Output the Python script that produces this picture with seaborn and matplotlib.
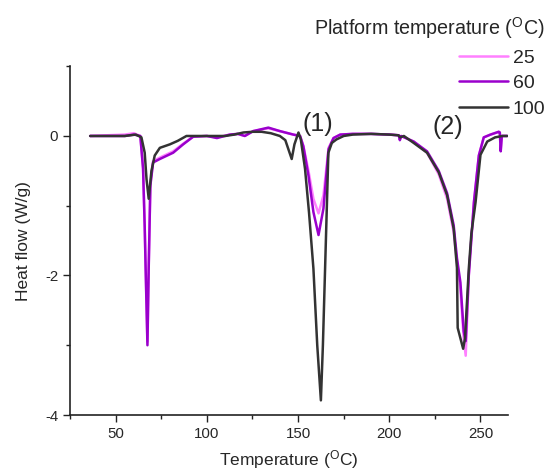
import numpy as np
import pandas as pd
import matplotlib
matplotlib.use("Agg")
import matplotlib.pyplot as plt
import seaborn as sns
from matplotlib.ticker import MultipleLocator

# ---------------- data ----------------
t_100 = [36, 45, 55, 61, 64.1, 65.9, 66.9, 68.1, 69.6, 71.4, 74.2, 79.7, 84, 88.8, 95, 100,
         110, 115, 120, 125, 130, 135, 140, 143, 146.5, 148, 150.2, 151.5, 153.8, 156,
         158.4, 160.5, 162.5, 163.6, 164.8, 166.6, 168.5, 171, 175, 180, 190, 200, 205,
         206, 208, 213.4, 220.7, 227.1, 231.7, 235.3, 237.1, 237.5, 238.5, 240.5, 241.5,
         243.6, 245, 247.3, 250, 253.7, 258, 262, 264.7]
hf_100 = [0, 0, 0, 0.02, -0.02, -0.24, -0.62, -0.90, -0.5, -0.28, -0.17, -0.12, -0.07, 0, 0, 0,
          0, 0.02, 0.05, 0.06, 0.06, 0.04, 0, -0.06, -0.33, -0.12, 0.05, -0.05, -0.47, -1.1,
          -1.9, -3.0, -3.79, -3.0, -1.9, -0.24, -0.1, -0.05, 0, 0.02, 0.03, 0.02, 0.01,
          -0.02, 0, -0.1, -0.24, -0.52, -0.85, -1.33, -1.89, -2.75, -2.85, -3.05, -2.9,
          -1.9, -1.4, -0.95, -0.27, -0.08, -0.02, 0, 0]

t_60 = [36, 45, 55, 60, 63.5, 65.0, 65.9, 66.4, 67.4, 68.1, 69.0, 70.5, 74.2, 81.5, 87, 92.5,
        100, 105.5, 112.6, 117, 120.8, 125.4, 133.7, 140, 147.4, 151.1, 152.9, 155.7, 158.4,
        161.2, 163.9, 166.7, 169.4, 173.1, 180, 190, 200, 205.2, 205.8, 206.5, 213.4,
        220.7, 227.1, 231.7, 235.3, 237.1, 239, 240.8, 241.9, 243.6, 246.4, 249.1, 251.8,
        255.5, 260, 260.6, 261.1, 261.7, 264.7]
hf_60 = [0, 0, 0, 0.02, 0, -0.47, -1.3, -1.89, -3.0, -1.89, -0.71, -0.38, -0.33, -0.24, -0.12,
         -0.01, 0, -0.03, 0.02, 0.03, 0, 0.07, 0.12, 0.07, 0.02, 0, -0.15, -0.57, -1.09,
         -1.42, -1.04, -0.19, -0.03, 0.02, 0.03, 0.03, 0.02, 0.01, -0.06, 0, -0.08,
         -0.22, -0.5, -0.82, -1.28, -1.75, -2.1, -2.8, -2.94, -1.99, -0.95, -0.28, -0.02,
         0.02, 0.06, 0.05, -0.22, 0, 0]

t_25 = [36, 45, 55, 60, 63.5, 65.0, 65.9, 66.4, 67.4, 68.1, 69.0, 70.5, 74.2, 81.5, 87, 92.5,
        100, 105.5, 112.6, 117, 120.8, 125.4, 133.7, 140, 147.4, 151.1, 152.9, 155.7, 158.4,
        161.2, 163.9, 166.7, 169.4, 173.1, 180, 190, 200, 205.2, 205.8, 206.5, 213.4,
        220.7, 227.1, 231.7, 235.3, 237.1, 239, 240.8, 241.9, 243.6, 246.4, 249.1, 251.8,
        255.5, 260, 260.6, 261.1, 261.7, 264.7]
hf_25 = [0, 0.01, 0.02, 0.04, 0, -0.45, -1.3, -1.85, -2.95, -1.85, -0.7, -0.36, -0.31, -0.22, -0.11,
         -0.01, 0, -0.02, 0.02, 0.03, 0, 0.07, 0.11, 0.07, 0.02, 0, -0.14, -0.5, -0.9,
         -1.11, -0.85, -0.17, -0.03, 0.02, 0.03, 0.03, 0.02, 0.01, -0.05, 0, -0.08,
         -0.24, -0.55, -0.9, -1.38, -1.8, -2.2, -2.9, -3.15, -2.0, -0.95, -0.28, -0.02,
         0.02, 0.06, 0.05, -0.2, 0, 0]

series_labels = ["25", "60", "100"]
series_colors = ["#ff80ff", "#9a00cc", "#333333"]

# ---------------- figure ----------------
sns.set_style("ticks")
plt.rcParams["font.family"] = ["Liberation Sans", "DejaVu Sans"]
plt.rcParams["mathtext.fontset"] = "custom"
plt.rcParams["mathtext.rm"] = "Liberation Sans"
plt.rcParams["mathtext.it"] = "Liberation Sans:italic"
plt.rcParams["axes.unicode_minus"] = False

fig = plt.figure(figsize=(5.52, 4.73), dpi=100)
ax = fig.add_axes([0.127, 0.1226, 0.793, 0.7374])

frames = []
for lab, t, h in [("25", t_25, hf_25), ("60", t_60, hf_60), ("100", t_100, hf_100)]:
    frames.append(pd.DataFrame({"T": t, "HF": h, "Platform": lab}))
df = pd.concat(frames, ignore_index=True)

sns.lineplot(data=df, x="T", y="HF", hue="Platform", hue_order=series_labels,
             palette=series_colors, sort=False, estimator=None, linewidth=1.8, ax=ax)

ax.set_xlim(25, 265)
ax.set_ylim(-4, 1)
ax.xaxis.set_major_locator(MultipleLocator(50))
ax.xaxis.set_minor_locator(MultipleLocator(25))
ax.yaxis.set_major_locator(MultipleLocator(2))
ax.yaxis.set_minor_locator(MultipleLocator(1))
ax.tick_params(which="major", length=5, width=1.0, labelsize=10.8, direction="out", color="#222222")
ax.tick_params(which="minor", length=3, width=1.0, direction="out", color="#222222")
sns.despine(ax=ax)
for s in ("left", "bottom"):
    ax.spines[s].set_linewidth(1.2)
    ax.spines[s].set_color("#222222")

ax.set_xlabel(r"Temperature ($^{\mathrm{O}}$C)", fontsize=12.5, labelpad=5)
ax.set_ylabel("Heat flow (W/g)", fontsize=12.5, labelpad=10)

ax.text(161, 0.0, "(1)", fontsize=18, ha="center", va="bottom")
ax.text(232, -0.05, "(2)", fontsize=18, ha="center", va="bottom")

handles, labels = ax.get_legend_handles_labels()
ax.legend(handles, labels, title=r"Platform temperature ($^{\mathrm{O}}$C)",
          loc="upper right", bbox_to_anchor=(1.0, 0.983), bbox_transform=fig.transFigure,
          frameon=False, fontsize=14, title_fontsize=14.2, alignment="right",
          handlelength=2.5, handletextpad=0.25, labelspacing=0.42, borderaxespad=0.05,
          borderpad=0.3)

fig.savefig("out.png", dpi=100)
